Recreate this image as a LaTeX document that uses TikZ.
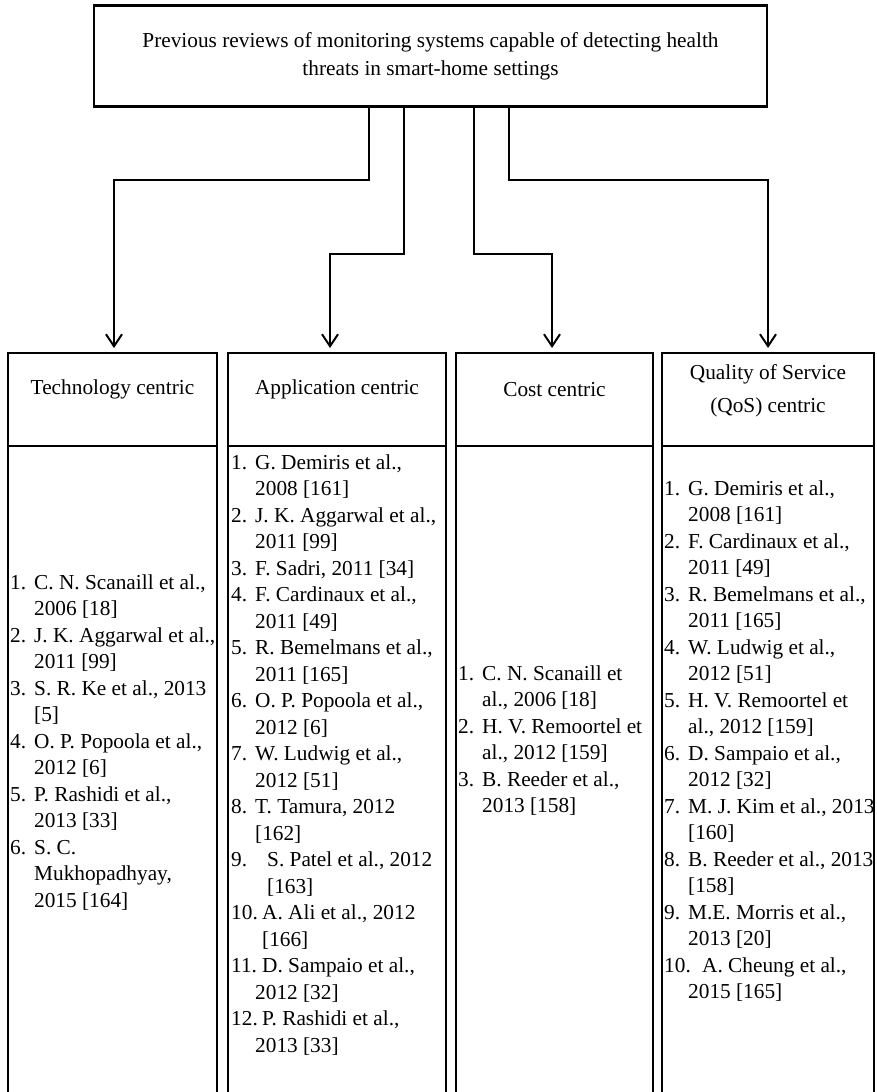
\documentclass[tikz,border=0pt]{standalone}
\usepackage{fontspec}
\setmainfont{Liberation Serif}
\usetikzlibrary{positioning, arrows.meta}

% number of a list entry, then the hanging indent of its next line
\newcommand{\lab}[2][24pt]{\makebox[#1][l]{#2}}
\newcommand{\ind}{\hspace*{24pt}}

\begin{document}
\begin{tikzpicture}[x=1pt, y=-1pt,
  box/.style = {draw, rectangle, line width=2.5pt, inner sep=0pt, outer sep=0pt},
  head/.style = {box, minimum height=93pt},
  body/.style = {box, minimum height=660pt},
  txt/.style = {inner sep=0pt, align=center, font=\fontsize{21.3pt}{33pt}\selectfont},
  lst/.style = {inner sep=0pt, anchor=north west, align=left, font=\fontsize{21.3pt}{26.5pt}\selectfont},
  arr/.style = {line width=2pt, -{Straight Barb[length=12pt, width=16pt]}}]
\useasboundingbox (0,0) rectangle (876,1092);
\clip (0,0) rectangle (876,1092);

\node[box, minimum width=673pt, minimum height=101pt, align=center,
  font=\fontsize{21.3pt}{28pt}\selectfont] (title) at (430.5,56)
  {Previous reviews of monitoring systems capable of detecting health\\threats in smart-home settings};

% the four column headers
\node[head, minimum width=209pt] (tech) at (112.5,399.5) {};
\node[head, minimum width=218pt] (appl) [right = 11pt of tech] {};
\node[head, minimum width=197pt] (cost) [right = 10pt of appl] {};
\node[head, minimum width=212pt] (qos)  [right = 9pt of cost] {};

\node[txt] (techtx) at ([yshift=10pt]tech.center) {Technology centric};
\node[txt] (appltx) at ([yshift=10pt]appl.center) {Application centric};
\node[txt] (costtx) at ([yshift=10pt]cost.center) {Cost centric};
\node[txt] (qostx)  at ([yshift=9pt]qos.center) {Quality of Service\\(QoS) centric};

% bodies (cut off at the bottom of the page)
\node[body, minimum width=209pt] (btech) [below = 0pt of tech] {};
\node[body, minimum width=218pt] (bappl) [below = 0pt of appl] {};
\node[body, minimum width=197pt] (bcost) [below = 0pt of cost] {};
\node[body, minimum width=212pt] (bqos)  [below = 0pt of qos] {};

\node[lst] (ltech) at ([xshift=2pt, yshift=-128.5pt]btech.north west) {%
\lab{1.}C. N. Scanaill et al.,\\
\ind 2006 [18]\\
\lab{2.}J. K. Aggarwal et al.,\\
\ind 2011 [99]\\
\lab{3.}S. R. Ke et al., 2013\\
\ind [5]\\
\lab{4.}O. P. Popoola et al.,\\
\ind 2012 [6]\\
\lab{5.}P. Rashidi et al.,\\
\ind 2013 [33]\\
\lab{6.}S. C.\\
\ind Mukhopadhyay,\\
\ind 2015 [164]};

\node[lst] (lappl) at ([xshift=3pt, yshift=-8.5pt]bappl.north west) {%
\lab{1.}G. Demiris et al.,\\
\ind 2008 [161]\\
\lab{2.}J. K. Aggarwal et al.,\\
\ind 2011 [99]\\
\lab{3.}F. Sadri, 2011 [34]\\
\lab{4.}F. Cardinaux et al.,\\
\ind 2011 [49]\\
\lab{5.}R. Bemelmans et al.,\\
\ind 2011 [165]\\
\lab{6.}O. P. Popoola et al.,\\
\ind 2012 [6]\\
\lab{7.}W. Ludwig et al.,\\
\ind 2012 [51]\\
\lab{8.}T. Tamura, 2012\\
\ind [162]\\
\lab[36pt]{9.}S. Patel et al., 2012\\
\hspace*{36pt}[163]\\
\lab[31pt]{10.}A. Ali et al., 2012\\
\hspace*{31pt}[166]\\
\lab[31pt]{11.}D. Sampaio et al.,\\
\ind 2012 [32]\\
\lab[31pt]{12.}P. Rashidi et al.,\\
\ind 2013 [33]};

\node[lst] (lcost) at ([xshift=2pt, yshift=-219.5pt]bcost.north west) {%
\lab{1.}C. N. Scanaill et\\
\ind al., 2006 [18]\\
\lab{2.}H. V. Remoortel et\\
\ind al., 2012 [159]\\
\lab{3.}B. Reeder et al.,\\
\ind 2013 [158]};

\node[lst] (lqos) at ([xshift=2pt, yshift=-34.5pt]bqos.north west) {%
\lab{1.}G. Demiris et al.,\\
\ind 2008 [161]\\
\lab{2.}F. Cardinaux et al.,\\
\ind 2011 [49]\\
\lab{3.}R. Bemelmans et al.,\\
\ind 2011 [165]\\
\lab{4.}W. Ludwig et al.,\\
\ind 2012 [51]\\
\lab{5.}H. V. Remoortel et\\
\ind al., 2012 [159]\\
\lab{6.}D. Sampaio et al.,\\
\ind 2012 [32]\\
\lab{7.}M. J. Kim et al., 2013\\
\ind [160]\\
\lab{8.}B. Reeder et al., 2013\\
\ind [158]\\
\lab{9.}M.E. Morris et al.,\\
\ind 2013 [20]\\
\lab[38pt]{10.}A. Cheung et al.,\\
\ind 2015 [165]};

% connectors from the title box
\draw[arr] ([xshift=-61.5pt]title.south) -- ++(0,73) -| ([xshift=1.5pt, yshift=5pt]tech.north);
\draw[arr] ([xshift=-26.5pt]title.south) -- ++(0,147) -| ([xshift=-7pt, yshift=5pt]appl.north);
\draw[arr] ([xshift=43.5pt]title.south) -- ++(0,147) -| ([xshift=-2.5pt, yshift=5pt]cost.north);
\draw[arr] ([xshift=78.5pt]title.south) -- ++(0,73) -| ([yshift=5pt]qos.north);
\end{tikzpicture}
\end{document}
